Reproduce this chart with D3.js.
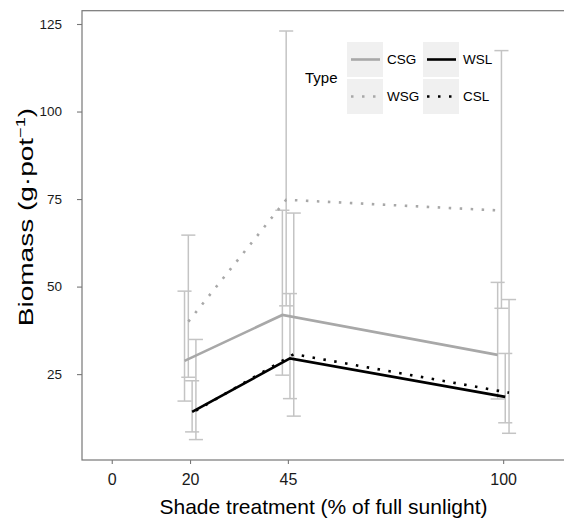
<!DOCTYPE html>
<html>
<head>
<meta charset="utf-8">
<script src="https://cdn.jsdelivr.net/npm/d3@7"></script>
<style>
  body { margin: 0; background: #fff; }
  svg { display: block; font-family: "Liberation Sans", Arial, sans-serif; }
</style>
</head>
<body>
<div id="chart"></div>
<script>
// shade levels (% of full sunlight)
const shade = [20, 45, 100];
const types = ["CSG", "WSG", "WSL", "CSL"];

// means and error bar ends
const csgMean = [28.8, 41.9, 30.5];
const csgUpper = [48.7, 71.8, 51.2];
const csgLower = [17.3, 24.7, 17.9];

const wsgMean = [40.0, 74.8, 71.7];
const wsgUpper = [64.7, 123.0, 117.4];
const wsgLower = [24.1, 44.5, 43.8];

const wslMean = [14.2, 29.5, 18.5];
const wslUpper = [23.1, 48.0, 30.9];
const wslLower = [8.5, 18.0, 11.1];

const cslMean = [14.6, 30.7, 19.7];
const cslUpper = [34.9, 71.0, 46.3];
const cslLower = [6.3, 13.0, 8.1];

const xTicks = [0, 20, 45, 100];
const yTicks = [25, 50, 75, 100, 125];

const series = [
  {name: "CSG", mean: csgMean, hi: csgUpper, lo: csgLower, color: "#a8a8a8", dash: null},
  {name: "WSG", mean: wsgMean, hi: wsgUpper, lo: wsgLower, color: "#a8a8a8", dash: "2.5,8.5"},
  {name: "WSL", mean: wslMean, hi: wslUpper, lo: wslLower, color: "#000", dash: null},
  {name: "CSL", mean: cslMean, hi: cslUpper, lo: cslLower, color: "#000", dash: "2.5,8.5"}
];

const W = 564, H = 523;
const svg = d3.select("#chart").append("svg").attr("width", W).attr("height", H);

const x = d3.scaleLinear().domain([-7.6, 115.8]).range([82, 565]);
const y = d3.scaleLinear().domain([0.47, 128.8]).range([460, 10.7]);

const dodge = i => (i - 1.45) * 0.97;
const capHalf = 1.8;

// panel border (top + left + bottom, right is cut off)
svg.append("rect")
  .attr("x", x.range()[0]).attr("y", y.range()[1])
  .attr("width", 600).attr("height", y.range()[0] - y.range()[1])
  .attr("fill", "none").attr("stroke", "#777").attr("stroke-width", 1.2);

// y axis
const gy = svg.append("g").attr("transform", `translate(${x.range()[0]},0)`)
  .call(d3.axisLeft(y).tickValues(yTicks).tickSize(5).tickPadding(15));
gy.select(".domain").remove();
gy.selectAll(".tick line").attr("stroke", "#777").attr("stroke-width", 1.1);
gy.selectAll(".tick text").attr("font-size", 13.5).attr("fill", "#1a1a1a")
  .attr("font-family", "Liberation Sans, Arial, sans-serif");

// x axis
const gx = svg.append("g").attr("transform", `translate(0,${y.range()[0]})`)
  .call(d3.axisBottom(x).tickValues(xTicks).tickSize(4).tickPadding(10));
gx.select(".domain").remove();
gx.selectAll(".tick line").attr("stroke", "#777").attr("stroke-width", 1.1);
gx.selectAll(".tick text").attr("font-size", 16).attr("fill", "#1a1a1a")
  .attr("font-family", "Liberation Sans, Arial, sans-serif");

// error bars
series.forEach((s, i) => {
  const g = svg.append("g").attr("stroke", "#c4c4c4").attr("stroke-width", 1.5).attr("fill", "none");
  shade.forEach((v, j) => {
    const cx = v + dodge(i);
    g.append("line").attr("x1", x(cx)).attr("x2", x(cx)).attr("y1", y(s.lo[j])).attr("y2", y(s.hi[j]));
    g.append("line").attr("x1", x(cx - capHalf)).attr("x2", x(cx + capHalf)).attr("y1", y(s.hi[j])).attr("y2", y(s.hi[j]));
    g.append("line").attr("x1", x(cx - capHalf)).attr("x2", x(cx + capHalf)).attr("y1", y(s.lo[j])).attr("y2", y(s.lo[j]));
  });
});

// lines
series.forEach((s, i) => {
  const line = d3.line().x((d, j) => x(shade[j] + dodge(i))).y(d => y(d));
  svg.append("path").datum(s.mean)
    .attr("d", line)
    .attr("fill", "none")
    .attr("stroke", s.color)
    .attr("stroke-width", 2.6)
    .attr("stroke-dasharray", s.dash);
});

// axis titles
svg.append("text")
  .attr("x", 323.5).attr("y", 514)
  .attr("text-anchor", "middle").attr("font-size", 21).attr("fill", "#000")
  .text("Shade treatment (% of full sunlight)");

// the y title in the figure is drawn stretched along its length
const yt = svg.append("text")
  .attr("transform", "translate(33,217) rotate(-90) scale(1.4,1)")
  .attr("text-anchor", "middle").attr("font-size", 20).attr("fill", "#000");
yt.append("tspan").text("Biomass (g·pot");
yt.append("tspan").attr("dy", -8).attr("font-size", 13).text("−1");
yt.append("tspan").attr("dy", 8).text(")");

// legend
const leg = svg.append("g").attr("transform", "translate(305,0)");
leg.append("text").attr("x", 0).attr("y", 83).attr("font-size", 15).attr("fill", "#000").text("Type");
const cols = [[0, 1], [2, 3]];
const colX = [42, 118];
const rowY = [42, 79];
cols.forEach((c, ci) => {
  c.forEach((si, ri) => {
    const s = series[si];
    const kx = colX[ci], ky = rowY[ri];
    leg.append("rect").attr("x", kx).attr("y", ky).attr("width", 36).attr("height", 35).attr("fill", "#f0f0f0");
    leg.append("line")
      .attr("x1", kx + 4).attr("x2", kx + 33)
      .attr("y1", ky + 17.5).attr("y2", ky + 17.5)
      .attr("stroke", s.color).attr("stroke-width", 2.6)
      .attr("stroke-dasharray", s.dash);
    leg.append("text").attr("x", kx + 40).attr("y", ky + 22)
      .attr("font-size", 13.5).attr("fill", "#000").text(s.name);
  });
});
</script>
</body>
</html>
